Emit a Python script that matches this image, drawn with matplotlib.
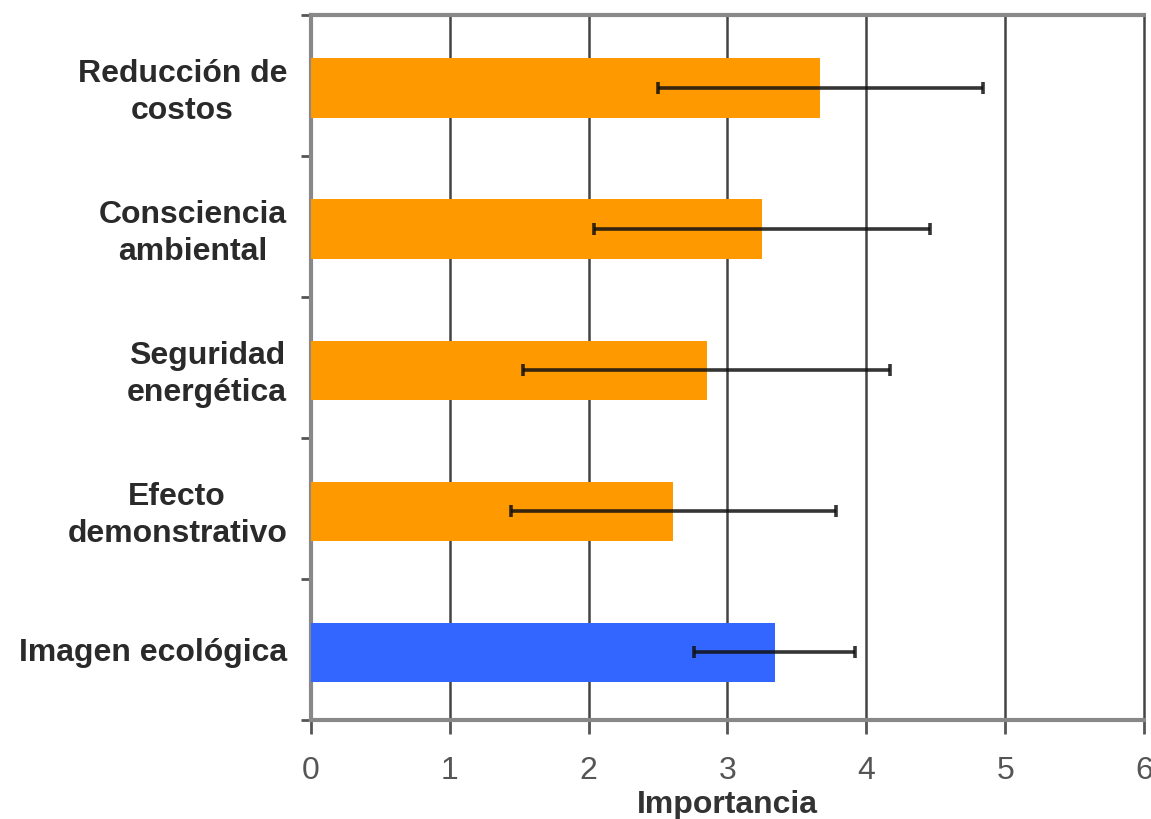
import matplotlib
matplotlib.use("Agg")
import matplotlib.pyplot as plt
import numpy as np

# Factors and their mean importance with spread
categories = ["Reducción de\ncostos", "Consciencia\nambiental", "Seguridad\nenergética",
              "Efecto\ndemonstrativo", "Imagen ecológica"]
importance = [3.67, 3.25, 2.85, 2.61, 3.34]
spread = [1.17, 1.21, 1.32, 1.17, 0.58]
bar_colors = ["#FF9900", "#FF9900", "#FF9900", "#FF9900", "#3366FF"]
x_ticks = [0, 1, 2, 3, 4, 5, 6]

plt.rcParams["font.family"] = ["Liberation Sans", "DejaVu Sans"]

fig = plt.figure(figsize=(11.51, 8.19), dpi=100)
ax = fig.add_axes([0.270, 0.121, 0.724, 0.861])

y = np.arange(len(categories))
ypos = y + 0.02
ax.barh(ypos, importance, height=0.42, color=bar_colors, zorder=3)
ax.errorbar(importance, ypos, xerr=spread, fmt="none", ecolor="#111111",
            elinewidth=2.6, capsize=4, capthick=2.6, alpha=0.85, zorder=4)

ax.set_xlim(0, 6)
ax.set_ylim(len(categories) - 0.5, -0.5)
ax.set_xticks(x_ticks)
ax.set_xticklabels([str(t) for t in x_ticks], fontsize=23, color="#555555")
ax.set_yticks(y)
ax.set_yticklabels(categories, fontsize=23, fontweight="bold", color="#2a2a2a",
                   multialignment="center", linespacing=1.3)
ax.set_yticks(np.arange(len(categories) + 1) - 0.5, minor=True)
ax.tick_params(axis="y", which="major", length=0, pad=17)
ax.tick_params(axis="y", which="minor", length=7, width=2, color="#555555")
ax.tick_params(axis="x", which="major", length=10, width=2, color="#555555", pad=16)

for xv in x_ticks[1:-1]:
    ax.axvline(xv, color="#444444", linewidth=1.8, zorder=1)

for side in ["top", "left", "bottom"]:
    ax.spines[side].set_color("#888888")
    ax.spines[side].set_linewidth(3)
ax.spines["right"].set_color("#444444")
ax.spines["right"].set_linewidth(1.8)

ax.set_xlabel("Importancia", fontsize=23, fontweight="bold", color="#333333", labelpad=3)

fig.savefig("out.png", dpi=100)
